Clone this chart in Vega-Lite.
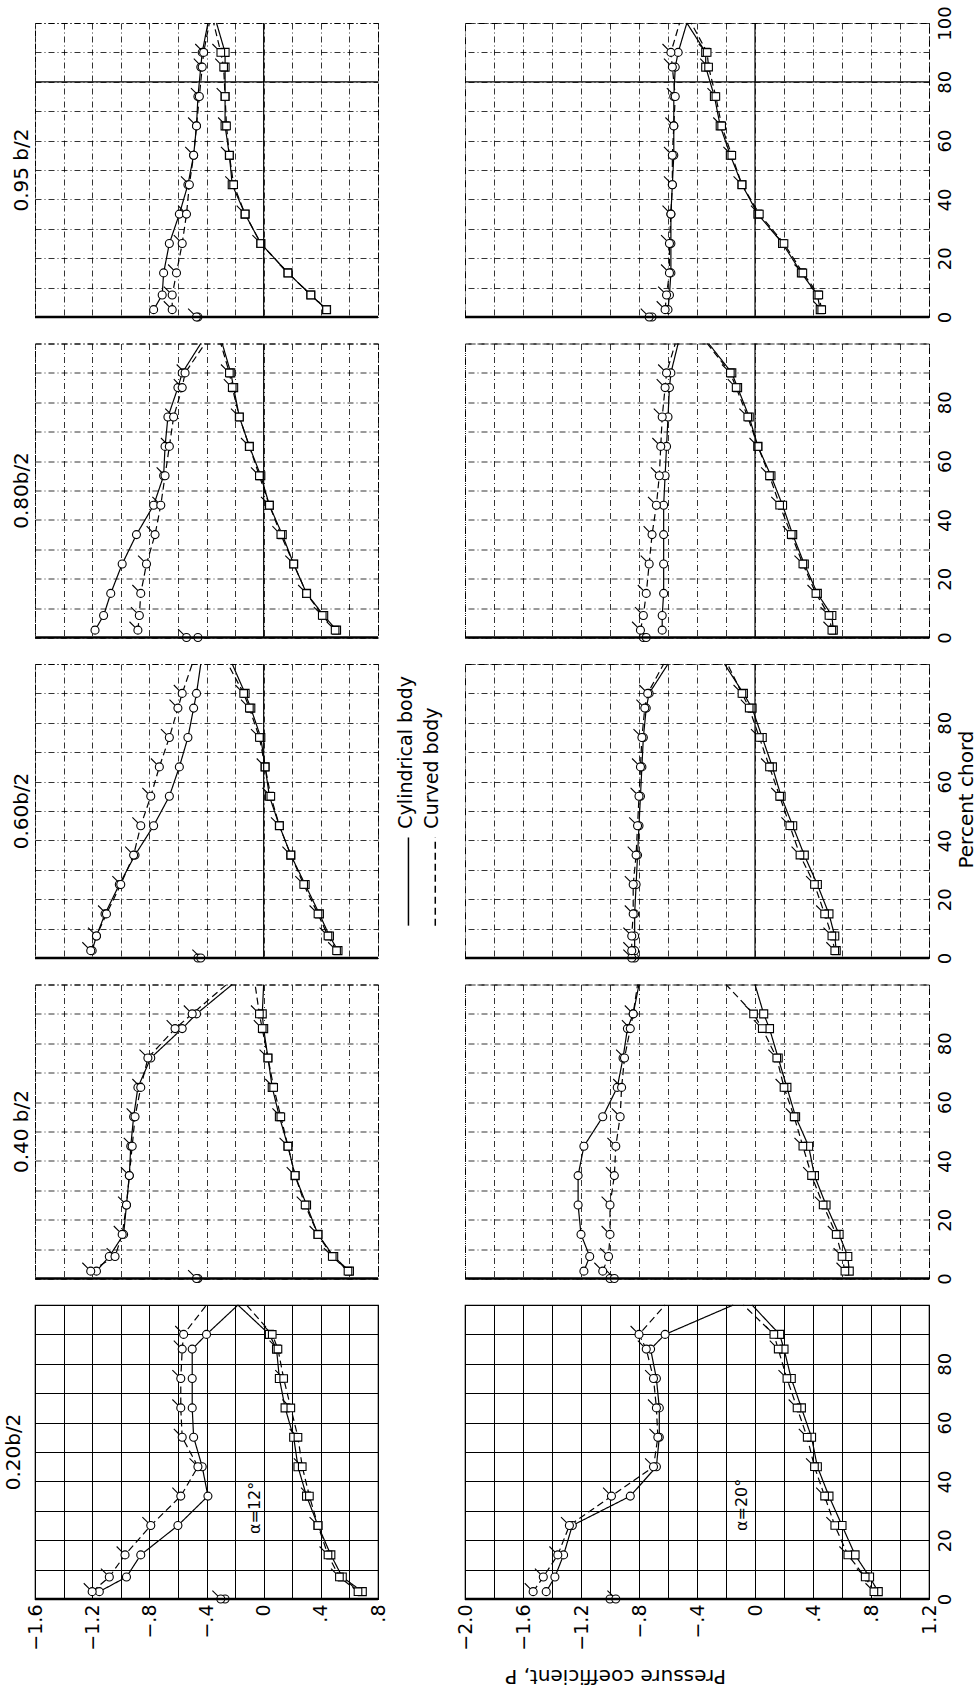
{
"$schema": "https://vega.github.io/schema/vega-lite/v6.json",
"background": "white",
"padding": {"left": 3, "top": 5, "right": 1, "bottom": 2},
"datasets": {
"s095a12": [
{"body":"cyl","side":"up","chord":0,"cp":-0.46},{"body":"crv","side":"up","chord":0,"cp":-0.47},
{"body":"cyl","side":"up","chord":2.5,"cp":-0.77},{"body":"cyl","side":"up","chord":7.5,"cp":-0.71},{"body":"cyl","side":"up","chord":15,"cp":-0.70},{"body":"cyl","side":"up","chord":25,"cp":-0.66},{"body":"cyl","side":"up","chord":35,"cp":-0.59},{"body":"cyl","side":"up","chord":45,"cp":-0.53},{"body":"cyl","side":"up","chord":55,"cp":-0.49},{"body":"cyl","side":"up","chord":65,"cp":-0.47},{"body":"cyl","side":"up","chord":75,"cp":-0.46},{"body":"cyl","side":"up","chord":85,"cp":-0.44},{"body":"cyl","side":"up","chord":90,"cp":-0.43},{"body":"cyl","side":"up","chord":100,"cp":-0.39},
{"body":"crv","side":"up","chord":2.5,"cp":-0.64},{"body":"crv","side":"up","chord":7.5,"cp":-0.64},{"body":"crv","side":"up","chord":15,"cp":-0.61},{"body":"crv","side":"up","chord":25,"cp":-0.57},{"body":"crv","side":"up","chord":35,"cp":-0.54},{"body":"crv","side":"up","chord":45,"cp":-0.52},{"body":"crv","side":"up","chord":55,"cp":-0.49},{"body":"crv","side":"up","chord":65,"cp":-0.47},{"body":"crv","side":"up","chord":75,"cp":-0.45},{"body":"crv","side":"up","chord":85,"cp":-0.43},{"body":"crv","side":"up","chord":90,"cp":-0.42},{"body":"crv","side":"up","chord":100,"cp":-0.38},
{"body":"cyl","side":"lo","chord":2.5,"cp":0.44},{"body":"cyl","side":"lo","chord":7.5,"cp":0.33},{"body":"cyl","side":"lo","chord":15,"cp":0.17},{"body":"cyl","side":"lo","chord":25,"cp":-0.02},{"body":"cyl","side":"lo","chord":35,"cp":-0.13},{"body":"cyl","side":"lo","chord":45,"cp":-0.22},{"body":"cyl","side":"lo","chord":55,"cp":-0.24},{"body":"cyl","side":"lo","chord":65,"cp":-0.27},{"body":"cyl","side":"lo","chord":75,"cp":-0.27},{"body":"cyl","side":"lo","chord":85,"cp":-0.27},{"body":"cyl","side":"lo","chord":90,"cp":-0.27},{"body":"cyl","side":"lo","chord":100,"cp":-0.33},
{"body":"crv","side":"lo","chord":2.5,"cp":0.44},{"body":"crv","side":"lo","chord":7.5,"cp":0.33},{"body":"crv","side":"lo","chord":15,"cp":0.17},{"body":"crv","side":"lo","chord":25,"cp":-0.02},{"body":"crv","side":"lo","chord":35,"cp":-0.13},{"body":"crv","side":"lo","chord":45,"cp":-0.21},{"body":"crv","side":"lo","chord":55,"cp":-0.24},{"body":"crv","side":"lo","chord":65,"cp":-0.26},{"body":"crv","side":"lo","chord":75,"cp":-0.27},{"body":"crv","side":"lo","chord":85,"cp":-0.28},{"body":"crv","side":"lo","chord":90,"cp":-0.30},{"body":"crv","side":"lo","chord":100,"cp":-0.35}
],
"s095a20": [
{"body":"cyl","side":"up","chord":0,"cp":-0.71},{"body":"crv","side":"up","chord":0,"cp":-0.73},
{"body":"cyl","side":"up","chord":2.5,"cp":-0.60},{"body":"cyl","side":"up","chord":7.5,"cp":-0.59},{"body":"cyl","side":"up","chord":15,"cp":-0.58},{"body":"cyl","side":"up","chord":25,"cp":-0.58},{"body":"cyl","side":"up","chord":35,"cp":-0.58},{"body":"cyl","side":"up","chord":45,"cp":-0.57},{"body":"cyl","side":"up","chord":55,"cp":-0.56},{"body":"cyl","side":"up","chord":65,"cp":-0.56},{"body":"cyl","side":"up","chord":75,"cp":-0.56},{"body":"cyl","side":"up","chord":85,"cp":-0.55},{"body":"cyl","side":"up","chord":90,"cp":-0.53},{"body":"cyl","side":"up","chord":100,"cp":-0.47},
{"body":"crv","side":"up","chord":2.5,"cp":-0.62},{"body":"crv","side":"up","chord":7.5,"cp":-0.61},{"body":"crv","side":"up","chord":15,"cp":-0.59},{"body":"crv","side":"up","chord":25,"cp":-0.59},{"body":"crv","side":"up","chord":35,"cp":-0.58},{"body":"crv","side":"up","chord":45,"cp":-0.57},{"body":"crv","side":"up","chord":55,"cp":-0.57},{"body":"crv","side":"up","chord":65,"cp":-0.56},{"body":"crv","side":"up","chord":75,"cp":-0.55},{"body":"crv","side":"up","chord":85,"cp":-0.57},{"body":"crv","side":"up","chord":90,"cp":-0.58},{"body":"crv","side":"up","chord":100,"cp":-0.52},
{"body":"cyl","side":"lo","chord":2.5,"cp":0.45},{"body":"cyl","side":"lo","chord":7.5,"cp":0.43},{"body":"cyl","side":"lo","chord":15,"cp":0.32},{"body":"cyl","side":"lo","chord":25,"cp":0.19},{"body":"cyl","side":"lo","chord":35,"cp":0.02},{"body":"cyl","side":"lo","chord":45,"cp":-0.09},{"body":"cyl","side":"lo","chord":55,"cp":-0.17},{"body":"cyl","side":"lo","chord":65,"cp":-0.24},{"body":"cyl","side":"lo","chord":75,"cp":-0.28},{"body":"cyl","side":"lo","chord":85,"cp":-0.34},{"body":"cyl","side":"lo","chord":90,"cp":-0.34},{"body":"cyl","side":"lo","chord":100,"cp":-0.47},
{"body":"crv","side":"lo","chord":2.5,"cp":0.46},{"body":"crv","side":"lo","chord":7.5,"cp":0.44},{"body":"crv","side":"lo","chord":15,"cp":0.33},{"body":"crv","side":"lo","chord":25,"cp":0.20},{"body":"crv","side":"lo","chord":35,"cp":0.03},{"body":"crv","side":"lo","chord":45,"cp":-0.09},{"body":"crv","side":"lo","chord":55,"cp":-0.16},{"body":"crv","side":"lo","chord":65,"cp":-0.23},{"body":"crv","side":"lo","chord":75,"cp":-0.27},{"body":"crv","side":"lo","chord":85,"cp":-0.32},{"body":"crv","side":"lo","chord":90,"cp":-0.33},{"body":"crv","side":"lo","chord":100,"cp":-0.44}
],
"s080a12": [
{"body":"cyl","side":"up","chord":0,"cp":-0.46},{"body":"crv","side":"up","chord":0,"cp":-0.54},
{"body":"cyl","side":"up","chord":2.5,"cp":-1.18},{"body":"cyl","side":"up","chord":7.5,"cp":-1.12},{"body":"cyl","side":"up","chord":15,"cp":-1.07},{"body":"cyl","side":"up","chord":25,"cp":-0.99},{"body":"cyl","side":"up","chord":35,"cp":-0.89},{"body":"cyl","side":"up","chord":45,"cp":-0.77},{"body":"cyl","side":"up","chord":55,"cp":-0.70},{"body":"cyl","side":"up","chord":65,"cp":-0.69},{"body":"cyl","side":"up","chord":75,"cp":-0.67},{"body":"cyl","side":"up","chord":85,"cp":-0.60},{"body":"cyl","side":"up","chord":90,"cp":-0.57},{"body":"cyl","side":"up","chord":100,"cp":-0.44},
{"body":"crv","side":"up","chord":2.5,"cp":-0.88},{"body":"crv","side":"up","chord":7.5,"cp":-0.87},{"body":"crv","side":"up","chord":15,"cp":-0.86},{"body":"crv","side":"up","chord":25,"cp":-0.82},{"body":"crv","side":"up","chord":35,"cp":-0.76},{"body":"crv","side":"up","chord":45,"cp":-0.72},{"body":"crv","side":"up","chord":55,"cp":-0.69},{"body":"crv","side":"up","chord":65,"cp":-0.66},{"body":"crv","side":"up","chord":75,"cp":-0.63},{"body":"crv","side":"up","chord":85,"cp":-0.57},{"body":"crv","side":"up","chord":90,"cp":-0.55},{"body":"crv","side":"up","chord":100,"cp":-0.41},
{"body":"cyl","side":"lo","chord":2.5,"cp":0.51},{"body":"cyl","side":"lo","chord":7.5,"cp":0.42},{"body":"cyl","side":"lo","chord":15,"cp":0.30},{"body":"cyl","side":"lo","chord":25,"cp":0.21},{"body":"cyl","side":"lo","chord":35,"cp":0.13},{"body":"cyl","side":"lo","chord":45,"cp":0.04},{"body":"cyl","side":"lo","chord":55,"cp":-0.02},{"body":"cyl","side":"lo","chord":65,"cp":-0.10},{"body":"cyl","side":"lo","chord":75,"cp":-0.17},{"body":"cyl","side":"lo","chord":85,"cp":-0.21},{"body":"cyl","side":"lo","chord":90,"cp":-0.23},{"body":"cyl","side":"lo","chord":100,"cp":-0.29},
{"body":"crv","side":"lo","chord":2.5,"cp":0.50},{"body":"crv","side":"lo","chord":7.5,"cp":0.41},{"body":"crv","side":"lo","chord":15,"cp":0.30},{"body":"crv","side":"lo","chord":25,"cp":0.21},{"body":"crv","side":"lo","chord":35,"cp":0.12},{"body":"crv","side":"lo","chord":45,"cp":0.04},{"body":"crv","side":"lo","chord":55,"cp":-0.03},{"body":"crv","side":"lo","chord":65,"cp":-0.10},{"body":"crv","side":"lo","chord":75,"cp":-0.17},{"body":"crv","side":"lo","chord":85,"cp":-0.22},{"body":"crv","side":"lo","chord":90,"cp":-0.24},{"body":"crv","side":"lo","chord":100,"cp":-0.30}
],
"s080a20": [
{"body":"cyl","side":"up","chord":0,"cp":-0.77},{"body":"crv","side":"up","chord":0,"cp":-0.75},
{"body":"cyl","side":"up","chord":2.5,"cp":-0.64},{"body":"cyl","side":"up","chord":7.5,"cp":-0.64},{"body":"cyl","side":"up","chord":15,"cp":-0.63},{"body":"cyl","side":"up","chord":25,"cp":-0.63},{"body":"cyl","side":"up","chord":35,"cp":-0.63},{"body":"cyl","side":"up","chord":45,"cp":-0.63},{"body":"cyl","side":"up","chord":55,"cp":-0.62},{"body":"cyl","side":"up","chord":65,"cp":-0.61},{"body":"cyl","side":"up","chord":75,"cp":-0.60},{"body":"cyl","side":"up","chord":85,"cp":-0.59},{"body":"cyl","side":"up","chord":90,"cp":-0.58},{"body":"cyl","side":"up","chord":100,"cp":-0.53},
{"body":"crv","side":"up","chord":2.5,"cp":-0.79},{"body":"crv","side":"up","chord":7.5,"cp":-0.77},{"body":"crv","side":"up","chord":15,"cp":-0.75},{"body":"crv","side":"up","chord":25,"cp":-0.73},{"body":"crv","side":"up","chord":35,"cp":-0.71},{"body":"crv","side":"up","chord":45,"cp":-0.68},{"body":"crv","side":"up","chord":55,"cp":-0.66},{"body":"crv","side":"up","chord":65,"cp":-0.65},{"body":"crv","side":"up","chord":75,"cp":-0.64},{"body":"crv","side":"up","chord":85,"cp":-0.62},{"body":"crv","side":"up","chord":90,"cp":-0.61},{"body":"crv","side":"up","chord":100,"cp":-0.55},
{"body":"cyl","side":"lo","chord":2.5,"cp":0.54},{"body":"cyl","side":"lo","chord":7.5,"cp":0.53},{"body":"cyl","side":"lo","chord":15,"cp":0.43},{"body":"cyl","side":"lo","chord":25,"cp":0.34},{"body":"cyl","side":"lo","chord":35,"cp":0.26},{"body":"cyl","side":"lo","chord":45,"cp":0.19},{"body":"cyl","side":"lo","chord":55,"cp":0.11},{"body":"cyl","side":"lo","chord":65,"cp":0.02},{"body":"cyl","side":"lo","chord":75,"cp":-0.04},{"body":"cyl","side":"lo","chord":85,"cp":-0.12},{"body":"cyl","side":"lo","chord":90,"cp":-0.16},{"body":"cyl","side":"lo","chord":100,"cp":-0.32},
{"body":"crv","side":"lo","chord":2.5,"cp":0.53},{"body":"crv","side":"lo","chord":7.5,"cp":0.51},{"body":"crv","side":"lo","chord":15,"cp":0.42},{"body":"crv","side":"lo","chord":25,"cp":0.33},{"body":"crv","side":"lo","chord":35,"cp":0.25},{"body":"crv","side":"lo","chord":45,"cp":0.17},{"body":"crv","side":"lo","chord":55,"cp":0.10},{"body":"crv","side":"lo","chord":65,"cp":0.02},{"body":"crv","side":"lo","chord":75,"cp":-0.05},{"body":"crv","side":"lo","chord":85,"cp":-0.13},{"body":"crv","side":"lo","chord":90,"cp":-0.17},{"body":"crv","side":"lo","chord":100,"cp":-0.33}
],
"s060a12": [
{"body":"cyl","side":"up","chord":0,"cp":-0.46},{"body":"crv","side":"up","chord":0,"cp":-0.44},
{"body":"cyl","side":"up","chord":2.5,"cp":-1.20},{"body":"cyl","side":"up","chord":7.5,"cp":-1.17},{"body":"cyl","side":"up","chord":15,"cp":-1.11},{"body":"cyl","side":"up","chord":25,"cp":-1.01},{"body":"cyl","side":"up","chord":35,"cp":-0.90},{"body":"cyl","side":"up","chord":45,"cp":-0.77},{"body":"cyl","side":"up","chord":55,"cp":-0.66},{"body":"cyl","side":"up","chord":65,"cp":-0.59},{"body":"cyl","side":"up","chord":75,"cp":-0.53},{"body":"cyl","side":"up","chord":85,"cp":-0.49},{"body":"cyl","side":"up","chord":90,"cp":-0.47},{"body":"cyl","side":"up","chord":100,"cp":-0.44},
{"body":"crv","side":"up","chord":2.5,"cp":-1.21},{"body":"crv","side":"up","chord":7.5,"cp":-1.17},{"body":"crv","side":"up","chord":15,"cp":-1.10},{"body":"crv","side":"up","chord":25,"cp":-1.00},{"body":"crv","side":"up","chord":35,"cp":-0.91},{"body":"crv","side":"up","chord":45,"cp":-0.86},{"body":"crv","side":"up","chord":55,"cp":-0.79},{"body":"crv","side":"up","chord":65,"cp":-0.73},{"body":"crv","side":"up","chord":75,"cp":-0.66},{"body":"crv","side":"up","chord":85,"cp":-0.60},{"body":"crv","side":"up","chord":90,"cp":-0.57},{"body":"crv","side":"up","chord":100,"cp":-0.50},
{"body":"cyl","side":"lo","chord":2.5,"cp":0.52},{"body":"cyl","side":"lo","chord":7.5,"cp":0.46},{"body":"cyl","side":"lo","chord":15,"cp":0.39},{"body":"cyl","side":"lo","chord":25,"cp":0.29},{"body":"cyl","side":"lo","chord":35,"cp":0.19},{"body":"cyl","side":"lo","chord":45,"cp":0.11},{"body":"cyl","side":"lo","chord":55,"cp":0.04},{"body":"cyl","side":"lo","chord":65,"cp":0.01},{"body":"cyl","side":"lo","chord":75,"cp":-0.02},{"body":"cyl","side":"lo","chord":85,"cp":-0.09},{"body":"cyl","side":"lo","chord":90,"cp":-0.13},{"body":"cyl","side":"lo","chord":100,"cp":-0.22},
{"body":"crv","side":"lo","chord":2.5,"cp":0.51},{"body":"crv","side":"lo","chord":7.5,"cp":0.45},{"body":"crv","side":"lo","chord":15,"cp":0.38},{"body":"crv","side":"lo","chord":25,"cp":0.28},{"body":"crv","side":"lo","chord":35,"cp":0.19},{"body":"crv","side":"lo","chord":45,"cp":0.11},{"body":"crv","side":"lo","chord":55,"cp":0.05},{"body":"crv","side":"lo","chord":65,"cp":0.01},{"body":"crv","side":"lo","chord":75,"cp":-0.03},{"body":"crv","side":"lo","chord":85,"cp":-0.10},{"body":"crv","side":"lo","chord":90,"cp":-0.14},{"body":"crv","side":"lo","chord":100,"cp":-0.25}
],
"s060a20": [
{"body":"cyl","side":"up","chord":0,"cp":-0.83},{"body":"crv","side":"up","chord":0,"cp":-0.85},
{"body":"cyl","side":"up","chord":2.5,"cp":-0.83},{"body":"cyl","side":"up","chord":7.5,"cp":-0.83},{"body":"cyl","side":"up","chord":15,"cp":-0.83},{"body":"cyl","side":"up","chord":25,"cp":-0.82},{"body":"cyl","side":"up","chord":35,"cp":-0.81},{"body":"cyl","side":"up","chord":45,"cp":-0.80},{"body":"cyl","side":"up","chord":55,"cp":-0.79},{"body":"cyl","side":"up","chord":65,"cp":-0.78},{"body":"cyl","side":"up","chord":75,"cp":-0.77},{"body":"cyl","side":"up","chord":85,"cp":-0.75},{"body":"cyl","side":"up","chord":90,"cp":-0.73},{"body":"cyl","side":"up","chord":100,"cp":-0.60},
{"body":"crv","side":"up","chord":2.5,"cp":-0.85},{"body":"crv","side":"up","chord":7.5,"cp":-0.85},{"body":"crv","side":"up","chord":15,"cp":-0.84},{"body":"crv","side":"up","chord":25,"cp":-0.84},{"body":"crv","side":"up","chord":35,"cp":-0.82},{"body":"crv","side":"up","chord":45,"cp":-0.81},{"body":"crv","side":"up","chord":55,"cp":-0.80},{"body":"crv","side":"up","chord":65,"cp":-0.79},{"body":"crv","side":"up","chord":75,"cp":-0.78},{"body":"crv","side":"up","chord":85,"cp":-0.76},{"body":"crv","side":"up","chord":90,"cp":-0.74},{"body":"crv","side":"up","chord":100,"cp":-0.63},
{"body":"cyl","side":"lo","chord":2.5,"cp":0.56},{"body":"cyl","side":"lo","chord":7.5,"cp":0.55},{"body":"cyl","side":"lo","chord":15,"cp":0.51},{"body":"cyl","side":"lo","chord":25,"cp":0.43},{"body":"cyl","side":"lo","chord":35,"cp":0.34},{"body":"cyl","side":"lo","chord":45,"cp":0.26},{"body":"cyl","side":"lo","chord":55,"cp":0.18},{"body":"cyl","side":"lo","chord":65,"cp":0.12},{"body":"cyl","side":"lo","chord":75,"cp":0.05},{"body":"cyl","side":"lo","chord":85,"cp":-0.02},{"body":"cyl","side":"lo","chord":90,"cp":-0.08},{"body":"cyl","side":"lo","chord":100,"cp":-0.21},
{"body":"crv","side":"lo","chord":2.5,"cp":0.55},{"body":"crv","side":"lo","chord":7.5,"cp":0.53},{"body":"crv","side":"lo","chord":15,"cp":0.48},{"body":"crv","side":"lo","chord":25,"cp":0.41},{"body":"crv","side":"lo","chord":35,"cp":0.31},{"body":"crv","side":"lo","chord":45,"cp":0.24},{"body":"crv","side":"lo","chord":55,"cp":0.17},{"body":"crv","side":"lo","chord":65,"cp":0.10},{"body":"crv","side":"lo","chord":75,"cp":0.03},{"body":"crv","side":"lo","chord":85,"cp":-0.04},{"body":"crv","side":"lo","chord":90,"cp":-0.09},{"body":"crv","side":"lo","chord":100,"cp":-0.19}
],
"s040a12": [
{"body":"cyl","side":"up","chord":0,"cp":-0.46},{"body":"crv","side":"up","chord":0,"cp":-0.47},
{"body":"cyl","side":"up","chord":2.5,"cp":-1.17},{"body":"cyl","side":"up","chord":7.5,"cp":-1.08},{"body":"cyl","side":"up","chord":15,"cp":-0.98},{"body":"cyl","side":"up","chord":25,"cp":-0.96},{"body":"cyl","side":"up","chord":35,"cp":-0.94},{"body":"cyl","side":"up","chord":45,"cp":-0.93},{"body":"cyl","side":"up","chord":55,"cp":-0.91},{"body":"cyl","side":"up","chord":65,"cp":-0.88},{"body":"cyl","side":"up","chord":75,"cp":-0.79},{"body":"cyl","side":"up","chord":85,"cp":-0.57},{"body":"cyl","side":"up","chord":90,"cp":-0.47},{"body":"cyl","side":"up","chord":100,"cp":-0.22},
{"body":"crv","side":"up","chord":2.5,"cp":-1.21},{"body":"crv","side":"up","chord":7.5,"cp":-1.04},{"body":"crv","side":"up","chord":15,"cp":-0.99},{"body":"crv","side":"up","chord":25,"cp":-0.96},{"body":"crv","side":"up","chord":35,"cp":-0.94},{"body":"crv","side":"up","chord":45,"cp":-0.92},{"body":"crv","side":"up","chord":55,"cp":-0.90},{"body":"crv","side":"up","chord":65,"cp":-0.86},{"body":"crv","side":"up","chord":75,"cp":-0.81},{"body":"crv","side":"up","chord":85,"cp":-0.62},{"body":"crv","side":"up","chord":90,"cp":-0.50},{"body":"crv","side":"up","chord":100,"cp":-0.26},
{"body":"cyl","side":"lo","chord":2.5,"cp":0.60},{"body":"cyl","side":"lo","chord":7.5,"cp":0.49},{"body":"cyl","side":"lo","chord":15,"cp":0.38},{"body":"cyl","side":"lo","chord":25,"cp":0.30},{"body":"cyl","side":"lo","chord":35,"cp":0.22},{"body":"cyl","side":"lo","chord":45,"cp":0.17},{"body":"cyl","side":"lo","chord":55,"cp":0.11},{"body":"cyl","side":"lo","chord":65,"cp":0.06},{"body":"cyl","side":"lo","chord":75,"cp":0.03},{"body":"cyl","side":"lo","chord":85,"cp":0.00},{"body":"cyl","side":"lo","chord":90,"cp":-0.01},{"body":"cyl","side":"lo","chord":100,"cp":0.00},
{"body":"crv","side":"lo","chord":2.5,"cp":0.59},{"body":"crv","side":"lo","chord":7.5,"cp":0.48},{"body":"crv","side":"lo","chord":15,"cp":0.38},{"body":"crv","side":"lo","chord":25,"cp":0.29},{"body":"crv","side":"lo","chord":35,"cp":0.22},{"body":"crv","side":"lo","chord":45,"cp":0.17},{"body":"crv","side":"lo","chord":55,"cp":0.12},{"body":"crv","side":"lo","chord":65,"cp":0.07},{"body":"crv","side":"lo","chord":75,"cp":0.03},{"body":"crv","side":"lo","chord":85,"cp":-0.01},{"body":"crv","side":"lo","chord":90,"cp":-0.03},{"body":"crv","side":"lo","chord":100,"cp":-0.06}
],
"s040a20": [
{"body":"cyl","side":"up","chord":0,"cp":-1.00},{"body":"crv","side":"up","chord":0,"cp":-0.97},
{"body":"cyl","side":"up","chord":2.5,"cp":-1.18},{"body":"cyl","side":"up","chord":7.5,"cp":-1.14},{"body":"cyl","side":"up","chord":15,"cp":-1.20},{"body":"cyl","side":"up","chord":25,"cp":-1.22},{"body":"cyl","side":"up","chord":35,"cp":-1.22},{"body":"cyl","side":"up","chord":45,"cp":-1.18},{"body":"cyl","side":"up","chord":55,"cp":-1.05},{"body":"cyl","side":"up","chord":65,"cp":-0.95},{"body":"cyl","side":"up","chord":75,"cp":-0.91},{"body":"cyl","side":"up","chord":85,"cp":-0.88},{"body":"cyl","side":"up","chord":90,"cp":-0.84},{"body":"cyl","side":"up","chord":100,"cp":-0.80},
{"body":"crv","side":"up","chord":2.5,"cp":-1.05},{"body":"crv","side":"up","chord":7.5,"cp":-1.01},{"body":"crv","side":"up","chord":15,"cp":-1.00},{"body":"crv","side":"up","chord":25,"cp":-1.00},{"body":"crv","side":"up","chord":35,"cp":-0.97},{"body":"crv","side":"up","chord":45,"cp":-0.96},{"body":"crv","side":"up","chord":55,"cp":-0.93},{"body":"crv","side":"up","chord":65,"cp":-0.92},{"body":"crv","side":"up","chord":75,"cp":-0.90},{"body":"crv","side":"up","chord":85,"cp":-0.86},{"body":"crv","side":"up","chord":90,"cp":-0.84},{"body":"crv","side":"up","chord":100,"cp":-0.81},
{"body":"cyl","side":"lo","chord":2.5,"cp":0.65},{"body":"cyl","side":"lo","chord":7.5,"cp":0.64},{"body":"cyl","side":"lo","chord":15,"cp":0.58},{"body":"cyl","side":"lo","chord":25,"cp":0.49},{"body":"cyl","side":"lo","chord":35,"cp":0.41},{"body":"cyl","side":"lo","chord":45,"cp":0.37},{"body":"cyl","side":"lo","chord":55,"cp":0.28},{"body":"cyl","side":"lo","chord":65,"cp":0.22},{"body":"cyl","side":"lo","chord":75,"cp":0.16},{"body":"cyl","side":"lo","chord":85,"cp":0.10},{"body":"cyl","side":"lo","chord":90,"cp":0.06},{"body":"cyl","side":"lo","chord":100,"cp":0.00},
{"body":"crv","side":"lo","chord":2.5,"cp":0.62},{"body":"crv","side":"lo","chord":7.5,"cp":0.60},{"body":"crv","side":"lo","chord":15,"cp":0.56},{"body":"crv","side":"lo","chord":25,"cp":0.47},{"body":"crv","side":"lo","chord":35,"cp":0.39},{"body":"crv","side":"lo","chord":45,"cp":0.33},{"body":"crv","side":"lo","chord":55,"cp":0.27},{"body":"crv","side":"lo","chord":65,"cp":0.20},{"body":"crv","side":"lo","chord":75,"cp":0.15},{"body":"crv","side":"lo","chord":85,"cp":0.05},{"body":"crv","side":"lo","chord":90,"cp":-0.01},{"body":"crv","side":"lo","chord":100,"cp":-0.20}
],
"s020a12": [
{"body":"cyl","side":"up","chord":0,"cp":-0.27},{"body":"crv","side":"up","chord":0,"cp":-0.30},
{"body":"cyl","side":"up","chord":2.5,"cp":-1.15},{"body":"cyl","side":"up","chord":7.5,"cp":-0.96},{"body":"cyl","side":"up","chord":15,"cp":-0.86},{"body":"cyl","side":"up","chord":25,"cp":-0.60},{"body":"cyl","side":"up","chord":35,"cp":-0.39},{"body":"cyl","side":"up","chord":45,"cp":-0.43},{"body":"cyl","side":"up","chord":55,"cp":-0.49},{"body":"cyl","side":"up","chord":65,"cp":-0.50},{"body":"cyl","side":"up","chord":75,"cp":-0.50},{"body":"cyl","side":"up","chord":85,"cp":-0.50},{"body":"cyl","side":"up","chord":90,"cp":-0.40},{"body":"cyl","side":"up","chord":100,"cp":-0.18},
{"body":"crv","side":"up","chord":2.5,"cp":-1.20},{"body":"crv","side":"up","chord":7.5,"cp":-1.08},{"body":"crv","side":"up","chord":15,"cp":-0.97},{"body":"crv","side":"up","chord":25,"cp":-0.79},{"body":"crv","side":"up","chord":35,"cp":-0.58},{"body":"crv","side":"up","chord":45,"cp":-0.46},{"body":"crv","side":"up","chord":55,"cp":-0.57},{"body":"crv","side":"up","chord":65,"cp":-0.58},{"body":"crv","side":"up","chord":75,"cp":-0.58},{"body":"crv","side":"up","chord":85,"cp":-0.57},{"body":"crv","side":"up","chord":90,"cp":-0.56},{"body":"crv","side":"up","chord":100,"cp":-0.40},
{"body":"cyl","side":"lo","chord":2.5,"cp":0.69},{"body":"cyl","side":"lo","chord":7.5,"cp":0.55},{"body":"cyl","side":"lo","chord":15,"cp":0.47},{"body":"cyl","side":"lo","chord":25,"cp":0.38},{"body":"cyl","side":"lo","chord":35,"cp":0.30},{"body":"cyl","side":"lo","chord":45,"cp":0.24},{"body":"cyl","side":"lo","chord":55,"cp":0.21},{"body":"cyl","side":"lo","chord":65,"cp":0.15},{"body":"cyl","side":"lo","chord":75,"cp":0.11},{"body":"cyl","side":"lo","chord":85,"cp":0.09},{"body":"cyl","side":"lo","chord":90,"cp":0.04},{"body":"cyl","side":"lo","chord":100,"cp":-0.18},
{"body":"crv","side":"lo","chord":2.5,"cp":0.66},{"body":"crv","side":"lo","chord":7.5,"cp":0.53},{"body":"crv","side":"lo","chord":15,"cp":0.45},{"body":"crv","side":"lo","chord":25,"cp":0.38},{"body":"crv","side":"lo","chord":35,"cp":0.32},{"body":"crv","side":"lo","chord":45,"cp":0.27},{"body":"crv","side":"lo","chord":55,"cp":0.24},{"body":"crv","side":"lo","chord":65,"cp":0.19},{"body":"crv","side":"lo","chord":75,"cp":0.14},{"body":"crv","side":"lo","chord":85,"cp":0.10},{"body":"crv","side":"lo","chord":90,"cp":0.06},{"body":"crv","side":"lo","chord":100,"cp":-0.12}
],
"s020a20": [
{"body":"cyl","side":"up","chord":0,"cp":-1.00},{"body":"crv","side":"up","chord":0,"cp":-0.96},
{"body":"cyl","side":"up","chord":2.5,"cp":-1.44},{"body":"cyl","side":"up","chord":7.5,"cp":-1.38},{"body":"cyl","side":"up","chord":15,"cp":-1.32},{"body":"cyl","side":"up","chord":25,"cp":-1.26},{"body":"cyl","side":"up","chord":35,"cp":-0.86},{"body":"cyl","side":"up","chord":45,"cp":-0.68},{"body":"cyl","side":"up","chord":55,"cp":-0.66},{"body":"cyl","side":"up","chord":65,"cp":-0.66},{"body":"cyl","side":"up","chord":75,"cp":-0.68},{"body":"cyl","side":"up","chord":85,"cp":-0.72},{"body":"cyl","side":"up","chord":90,"cp":-0.62},{"body":"cyl","side":"up","chord":100,"cp":-0.15},
{"body":"crv","side":"up","chord":2.5,"cp":-1.53},{"body":"crv","side":"up","chord":7.5,"cp":-1.46},{"body":"crv","side":"up","chord":15,"cp":-1.36},{"body":"crv","side":"up","chord":25,"cp":-1.28},{"body":"crv","side":"up","chord":35,"cp":-0.99},{"body":"crv","side":"up","chord":45,"cp":-0.70},{"body":"crv","side":"up","chord":55,"cp":-0.67},{"body":"crv","side":"up","chord":65,"cp":-0.68},{"body":"crv","side":"up","chord":75,"cp":-0.70},{"body":"crv","side":"up","chord":85,"cp":-0.75},{"body":"crv","side":"up","chord":90,"cp":-0.80},{"body":"crv","side":"up","chord":100,"cp":-0.62},
{"body":"cyl","side":"lo","chord":2.5,"cp":0.85},{"body":"cyl","side":"lo","chord":7.5,"cp":0.79},{"body":"cyl","side":"lo","chord":15,"cp":0.69},{"body":"cyl","side":"lo","chord":25,"cp":0.60},{"body":"cyl","side":"lo","chord":35,"cp":0.51},{"body":"cyl","side":"lo","chord":45,"cp":0.43},{"body":"cyl","side":"lo","chord":55,"cp":0.39},{"body":"cyl","side":"lo","chord":65,"cp":0.32},{"body":"cyl","side":"lo","chord":75,"cp":0.25},{"body":"cyl","side":"lo","chord":85,"cp":0.20},{"body":"cyl","side":"lo","chord":90,"cp":0.17},{"body":"cyl","side":"lo","chord":100,"cp":-0.02},
{"body":"crv","side":"lo","chord":2.5,"cp":0.82},{"body":"crv","side":"lo","chord":7.5,"cp":0.76},{"body":"crv","side":"lo","chord":15,"cp":0.64},{"body":"crv","side":"lo","chord":25,"cp":0.55},{"body":"crv","side":"lo","chord":35,"cp":0.48},{"body":"crv","side":"lo","chord":45,"cp":0.41},{"body":"crv","side":"lo","chord":55,"cp":0.36},{"body":"crv","side":"lo","chord":65,"cp":0.29},{"body":"crv","side":"lo","chord":75,"cp":0.22},{"body":"crv","side":"lo","chord":85,"cp":0.16},{"body":"crv","side":"lo","chord":90,"cp":0.13},{"body":"crv","side":"lo","chord":100,"cp":-0.08}
]
},
"columns": 2,
"spacing": {"row": 26.5, "column": 87},
"align": "each",
"bounds": "flush",
"resolve": {"scale": {"x": "independent", "y": "independent"}},
"concat": [
{
 "width": 343, "height": 294, "data": {"name": "s095a12"},
 "title": {"text": "0.95 b/2", "orient": "left", "anchor": "middle", "fontSize": 20, "fontWeight": "normal", "offset": 2},
 "view": {"stroke": "black", "strokeWidth": 1, "strokeDash": [6,3,1,3]},
 "resolve": {"scale": {"shape": "independent"}},
 "layer": [
  {"transform": [{"filter": "datum.chord > 0"}], "mark": {"type": "line", "color": "black", "strokeWidth": 1.2},
   "encoding": {
    "x": {"field": "cp", "type": "quantitative", "title": null, "scale": {"domain": [-1.6, 0.8], "nice": false, "zero": false}, "axis": {"values": [-1.6,-1.4,-1.2,-1,-0.8,-0.6,-0.4,-0.2,0,0.2,0.4,0.6,0.8], "tickCount": 30, "grid": true, "gridColor": "black", "gridWidth": 0.8, "gridDash": [6,3,1,3], "labels": false, "ticks": false, "domain": false, "title": null}},
    "y": {"field": "chord", "type": "quantitative", "title": null, "scale": {"domain": [0, 100], "nice": false, "zero": false}, "axis": {"orient": "left", "values": [0,10,20,30,40,50,60,70,80,90,100], "tickCount": 30, "grid": true, "gridColor": "black", "gridWidth": 0.8, "gridDash": [6,3,1,3], "labels": false, "ticks": false, "domain": false, "title": null}},
    "detail": {"field": "side"},
    "strokeDash": {"field": "body", "type": "nominal", "scale": {"domain": ["cyl","crv"], "range": [[1,0],[7,4]]}, "legend": null},
    "order": {"field": "chord", "type": "quantitative"}}},
  {"transform": [{"filter": "datum.body == 'cyl' && datum.chord < 100"}], "mark": {"type": "point", "filled": true, "fill": "white", "stroke": "black", "strokeWidth": 1.1, "size": 64, "opacity": 1},
   "encoding": {"x": {"field": "cp", "type": "quantitative", "title": null}, "y": {"field": "chord", "type": "quantitative", "title": null},
    "shape": {"field": "side", "type": "nominal", "scale": {"domain": ["up","lo"], "range": ["circle","square"]}, "legend": null}}},
  {"transform": [{"filter": "datum.body == 'crv' && datum.chord < 100"}], "mark": {"type": "point", "filled": true, "fill": "white", "stroke": "black", "strokeWidth": 1.1, "size": 64, "opacity": 1},
   "encoding": {"x": {"field": "cp", "type": "quantitative", "title": null}, "y": {"field": "chord", "type": "quantitative", "title": null},
    "shape": {"field": "side", "type": "nominal", "scale": {"domain": ["up","lo"], "range": ["M1,0A1,1,0,1,1,-1,0A1,1,0,1,1,1,0M-0.7,-0.7L-2.1,-2.1", "M-0.95,-0.95L0.95,-0.95L0.95,0.95L-0.95,0.95ZM-0.95,-0.95L-2.1,-2.1"]}, "legend": null}}},
  {"data": {"values": [{}]}, "mark": {"type": "rule", "color": "black", "strokeWidth": 2.5}, "encoding": {"y": {"datum": 0, "type": "quantitative", "title": null}}},
  {"data": {"values": [{}]}, "mark": {"type": "rule", "color": "black", "strokeWidth": 1.2}, "encoding": {"y": {"datum": 80, "type": "quantitative", "title": null}}},
  {"data": {"values": [{}]}, "mark": {"type": "rule", "color": "black", "strokeWidth": 1.2}, "encoding": {"x": {"datum": 0, "type": "quantitative", "title": null}}}
 ]
},
{
 "width": 464, "height": 294, "data": {"name": "s095a20"},
 "view": {"stroke": "black", "strokeWidth": 1, "strokeDash": [6,3,1,3]},
 "resolve": {"scale": {"shape": "independent"}},
 "layer": [
  {"transform": [{"filter": "datum.chord > 0"}], "mark": {"type": "line", "color": "black", "strokeWidth": 1.2},
   "encoding": {
    "x": {"field": "cp", "type": "quantitative", "title": null, "scale": {"domain": [-2, 1.2], "nice": false, "zero": false}, "axis": {"values": [-2,-1.8,-1.6,-1.4,-1.2,-1,-0.8,-0.6,-0.4,-0.2,0,0.2,0.4,0.6,0.8,1,1.2], "tickCount": 30, "grid": true, "gridColor": "black", "gridWidth": 0.8, "gridDash": [6,3,1,3], "labels": false, "ticks": false, "domain": false, "title": null}},
    "y": {"field": "chord", "type": "quantitative", "title": null, "scale": {"domain": [0, 100], "nice": false, "zero": false}, "axis": {"orient": "right", "values": [0,10,20,30,40,50,60,70,80,90,100], "tickCount": 30, "grid": true, "gridColor": "black", "gridWidth": 0.8, "gridDash": [6,3,1,3], "labels": true, "labelExpr": "datum.value % 20 == 0 ? datum.label : ''", "labelAngle": 270, "labelAlign": "center", "labelBaseline": "top", "labelPadding": 7, "labelFontSize": 18, "labelFont": "DejaVu Sans", "labelColor": "black", "labelFlush": false, "labelOverlap": false, "labelBound": false, "ticks": false, "domain": false, "title": null}},
    "detail": {"field": "side"},
    "strokeDash": {"field": "body", "type": "nominal", "scale": {"domain": ["cyl","crv"], "range": [[1,0],[7,4]]}, "legend": null},
    "order": {"field": "chord", "type": "quantitative"}}},
  {"transform": [{"filter": "datum.body == 'cyl' && datum.chord < 100"}], "mark": {"type": "point", "filled": true, "fill": "white", "stroke": "black", "strokeWidth": 1.1, "size": 64, "opacity": 1},
   "encoding": {"x": {"field": "cp", "type": "quantitative", "title": null}, "y": {"field": "chord", "type": "quantitative", "title": null},
    "shape": {"field": "side", "type": "nominal", "scale": {"domain": ["up","lo"], "range": ["circle","square"]}, "legend": null}}},
  {"transform": [{"filter": "datum.body == 'crv' && datum.chord < 100"}], "mark": {"type": "point", "filled": true, "fill": "white", "stroke": "black", "strokeWidth": 1.1, "size": 64, "opacity": 1},
   "encoding": {"x": {"field": "cp", "type": "quantitative", "title": null}, "y": {"field": "chord", "type": "quantitative", "title": null},
    "shape": {"field": "side", "type": "nominal", "scale": {"domain": ["up","lo"], "range": ["M1,0A1,1,0,1,1,-1,0A1,1,0,1,1,1,0M-0.7,-0.7L-2.1,-2.1", "M-0.95,-0.95L0.95,-0.95L0.95,0.95L-0.95,0.95ZM-0.95,-0.95L-2.1,-2.1"]}, "legend": null}}},
  {"data": {"values": [{}]}, "mark": {"type": "rule", "color": "black", "strokeWidth": 2.5}, "encoding": {"y": {"datum": 0, "type": "quantitative", "title": null}}},
  {"data": {"values": [{}]}, "mark": {"type": "rule", "color": "black", "strokeWidth": 1.2}, "encoding": {"y": {"datum": 80, "type": "quantitative", "title": null}}},
  {"data": {"values": [{}]}, "mark": {"type": "rule", "color": "black", "strokeWidth": 1.2}, "encoding": {"x": {"datum": 0, "type": "quantitative", "title": null}}}
 ]
},
{
 "width": 343, "height": 294, "data": {"name": "s080a12"},
 "title": {"text": "0.80b/2", "orient": "left", "anchor": "middle", "fontSize": 20, "fontWeight": "normal", "offset": 2},
 "view": {"stroke": "black", "strokeWidth": 1, "strokeDash": [6,3,1,3]},
 "resolve": {"scale": {"shape": "independent"}},
 "layer": [
  {"transform": [{"filter": "datum.chord > 0"}], "mark": {"type": "line", "color": "black", "strokeWidth": 1.2},
   "encoding": {
    "x": {"field": "cp", "type": "quantitative", "title": null, "scale": {"domain": [-1.6, 0.8], "nice": false, "zero": false}, "axis": {"values": [-1.6,-1.4,-1.2,-1,-0.8,-0.6,-0.4,-0.2,0,0.2,0.4,0.6,0.8], "tickCount": 30, "grid": true, "gridColor": "black", "gridWidth": 0.8, "gridDash": [6,3,1,3], "labels": false, "ticks": false, "domain": false, "title": null}},
    "y": {"field": "chord", "type": "quantitative", "title": null, "scale": {"domain": [0, 100], "nice": false, "zero": false}, "axis": {"orient": "left", "values": [0,10,20,30,40,50,60,70,80,90,100], "tickCount": 30, "grid": true, "gridColor": "black", "gridWidth": 0.8, "gridDash": [6,3,1,3], "labels": false, "ticks": false, "domain": false, "title": null}},
    "detail": {"field": "side"},
    "strokeDash": {"field": "body", "type": "nominal", "scale": {"domain": ["cyl","crv"], "range": [[1,0],[7,4]]}, "legend": null},
    "order": {"field": "chord", "type": "quantitative"}}},
  {"transform": [{"filter": "datum.body == 'cyl' && datum.chord < 100"}], "mark": {"type": "point", "filled": true, "fill": "white", "stroke": "black", "strokeWidth": 1.1, "size": 64, "opacity": 1},
   "encoding": {"x": {"field": "cp", "type": "quantitative", "title": null}, "y": {"field": "chord", "type": "quantitative", "title": null},
    "shape": {"field": "side", "type": "nominal", "scale": {"domain": ["up","lo"], "range": ["circle","square"]}, "legend": null}}},
  {"transform": [{"filter": "datum.body == 'crv' && datum.chord < 100"}], "mark": {"type": "point", "filled": true, "fill": "white", "stroke": "black", "strokeWidth": 1.1, "size": 64, "opacity": 1},
   "encoding": {"x": {"field": "cp", "type": "quantitative", "title": null}, "y": {"field": "chord", "type": "quantitative", "title": null},
    "shape": {"field": "side", "type": "nominal", "scale": {"domain": ["up","lo"], "range": ["M1,0A1,1,0,1,1,-1,0A1,1,0,1,1,1,0M-0.7,-0.7L-2.1,-2.1", "M-0.95,-0.95L0.95,-0.95L0.95,0.95L-0.95,0.95ZM-0.95,-0.95L-2.1,-2.1"]}, "legend": null}}},
  {"data": {"values": [{}]}, "mark": {"type": "rule", "color": "black", "strokeWidth": 2.5}, "encoding": {"y": {"datum": 0, "type": "quantitative", "title": null}}},
  {"data": {"values": [{}]}, "mark": {"type": "rule", "color": "black", "strokeWidth": 1.2}, "encoding": {"x": {"datum": 0, "type": "quantitative", "title": null}}}
 ]
},
{
 "width": 464, "height": 294, "data": {"name": "s080a20"},
 "view": {"stroke": "black", "strokeWidth": 1, "strokeDash": [6,3,1,3]},
 "resolve": {"scale": {"shape": "independent"}},
 "layer": [
  {"transform": [{"filter": "datum.chord > 0"}], "mark": {"type": "line", "color": "black", "strokeWidth": 1.2},
   "encoding": {
    "x": {"field": "cp", "type": "quantitative", "title": null, "scale": {"domain": [-2, 1.2], "nice": false, "zero": false}, "axis": {"values": [-2,-1.8,-1.6,-1.4,-1.2,-1,-0.8,-0.6,-0.4,-0.2,0,0.2,0.4,0.6,0.8,1,1.2], "tickCount": 30, "grid": true, "gridColor": "black", "gridWidth": 0.8, "gridDash": [6,3,1,3], "labels": false, "ticks": false, "domain": false, "title": null}},
    "y": {"field": "chord", "type": "quantitative", "title": null, "scale": {"domain": [0, 100], "nice": false, "zero": false}, "axis": {"orient": "right", "values": [0,10,20,30,40,50,60,70,80,90,100], "tickCount": 30, "grid": true, "gridColor": "black", "gridWidth": 0.8, "gridDash": [6,3,1,3], "labels": true, "labelExpr": "datum.value % 20 == 0 && datum.value < 100 ? datum.label : ''", "labelAngle": 270, "labelAlign": "center", "labelBaseline": "top", "labelPadding": 7, "labelFontSize": 18, "labelFont": "DejaVu Sans", "labelColor": "black", "labelFlush": false, "labelOverlap": false, "labelBound": false, "ticks": false, "domain": false, "title": null}},
    "detail": {"field": "side"},
    "strokeDash": {"field": "body", "type": "nominal", "scale": {"domain": ["cyl","crv"], "range": [[1,0],[7,4]]}, "legend": null},
    "order": {"field": "chord", "type": "quantitative"}}},
  {"transform": [{"filter": "datum.body == 'cyl' && datum.chord < 100"}], "mark": {"type": "point", "filled": true, "fill": "white", "stroke": "black", "strokeWidth": 1.1, "size": 64, "opacity": 1},
   "encoding": {"x": {"field": "cp", "type": "quantitative", "title": null}, "y": {"field": "chord", "type": "quantitative", "title": null},
    "shape": {"field": "side", "type": "nominal", "scale": {"domain": ["up","lo"], "range": ["circle","square"]}, "legend": null}}},
  {"transform": [{"filter": "datum.body == 'crv' && datum.chord < 100"}], "mark": {"type": "point", "filled": true, "fill": "white", "stroke": "black", "strokeWidth": 1.1, "size": 64, "opacity": 1},
   "encoding": {"x": {"field": "cp", "type": "quantitative", "title": null}, "y": {"field": "chord", "type": "quantitative", "title": null},
    "shape": {"field": "side", "type": "nominal", "scale": {"domain": ["up","lo"], "range": ["M1,0A1,1,0,1,1,-1,0A1,1,0,1,1,1,0M-0.7,-0.7L-2.1,-2.1", "M-0.95,-0.95L0.95,-0.95L0.95,0.95L-0.95,0.95ZM-0.95,-0.95L-2.1,-2.1"]}, "legend": null}}},
  {"data": {"values": [{}]}, "mark": {"type": "rule", "color": "black", "strokeWidth": 2.5}, "encoding": {"y": {"datum": 0, "type": "quantitative", "title": null}}},
  {"data": {"values": [{}]}, "mark": {"type": "rule", "color": "black", "strokeWidth": 1.2}, "encoding": {"x": {"datum": 0, "type": "quantitative", "title": null}}}
 ]
},
{
 "width": 343, "height": 294, "data": {"name": "s060a12"},
 "title": {"text": "0.60b/2", "orient": "left", "anchor": "middle", "fontSize": 20, "fontWeight": "normal", "offset": 2},
 "view": {"stroke": "black", "strokeWidth": 1, "strokeDash": [6,3,1,3]},
 "resolve": {"scale": {"shape": "independent"}},
 "layer": [
  {"transform": [{"filter": "datum.chord > 0"}], "mark": {"type": "line", "color": "black", "strokeWidth": 1.2},
   "encoding": {
    "x": {"field": "cp", "type": "quantitative", "title": null, "scale": {"domain": [-1.6, 0.8], "nice": false, "zero": false}, "axis": {"values": [-1.6,-1.4,-1.2,-1,-0.8,-0.6,-0.4,-0.2,0,0.2,0.4,0.6,0.8], "tickCount": 30, "grid": true, "gridColor": "black", "gridWidth": 0.8, "gridDash": [6,3,1,3], "labels": false, "ticks": false, "domain": false, "title": null}},
    "y": {"field": "chord", "type": "quantitative", "title": null, "scale": {"domain": [0, 100], "nice": false, "zero": false}, "axis": {"orient": "left", "values": [0,10,20,30,40,50,60,70,80,90,100], "tickCount": 30, "grid": true, "gridColor": "black", "gridWidth": 0.8, "gridDash": [6,3,1,3], "labels": false, "ticks": false, "domain": false, "title": null}},
    "detail": {"field": "side"},
    "strokeDash": {"field": "body", "type": "nominal", "scale": {"domain": ["cyl","crv"], "range": [[1,0],[7,4]]}, "legend": null},
    "order": {"field": "chord", "type": "quantitative"}}},
  {"transform": [{"filter": "datum.body == 'cyl' && datum.chord < 100"}], "mark": {"type": "point", "filled": true, "fill": "white", "stroke": "black", "strokeWidth": 1.1, "size": 64, "opacity": 1},
   "encoding": {"x": {"field": "cp", "type": "quantitative", "title": null}, "y": {"field": "chord", "type": "quantitative", "title": null},
    "shape": {"field": "side", "type": "nominal", "scale": {"domain": ["up","lo"], "range": ["circle","square"]}, "legend": null}}},
  {"transform": [{"filter": "datum.body == 'crv' && datum.chord < 100"}], "mark": {"type": "point", "filled": true, "fill": "white", "stroke": "black", "strokeWidth": 1.1, "size": 64, "opacity": 1},
   "encoding": {"x": {"field": "cp", "type": "quantitative", "title": null}, "y": {"field": "chord", "type": "quantitative", "title": null},
    "shape": {"field": "side", "type": "nominal", "scale": {"domain": ["up","lo"], "range": ["M1,0A1,1,0,1,1,-1,0A1,1,0,1,1,1,0M-0.7,-0.7L-2.1,-2.1", "M-0.95,-0.95L0.95,-0.95L0.95,0.95L-0.95,0.95ZM-0.95,-0.95L-2.1,-2.1"]}, "legend": null}}},
  {"data": {"values": [{}]}, "mark": {"type": "rule", "color": "black", "strokeWidth": 2.5}, "encoding": {"y": {"datum": 0, "type": "quantitative", "title": null}}},
  {"data": {"values": [{}]}, "mark": {"type": "rule", "color": "black", "strokeWidth": 1.2}, "encoding": {"x": {"datum": 0, "type": "quantitative", "title": null}}}
 ]
},
{
 "width": 464, "height": 294, "data": {"name": "s060a20"},
 "view": {"stroke": "black", "strokeWidth": 1, "strokeDash": [6,3,1,3]},
 "resolve": {"scale": {"shape": "independent"}},
 "layer": [
  {"transform": [{"filter": "datum.chord > 0"}], "mark": {"type": "line", "color": "black", "strokeWidth": 1.2},
   "encoding": {
    "x": {"field": "cp", "type": "quantitative", "title": null, "scale": {"domain": [-2, 1.2], "nice": false, "zero": false}, "axis": {"values": [-2,-1.8,-1.6,-1.4,-1.2,-1,-0.8,-0.6,-0.4,-0.2,0,0.2,0.4,0.6,0.8,1,1.2], "tickCount": 30, "grid": true, "gridColor": "black", "gridWidth": 0.8, "gridDash": [6,3,1,3], "labels": false, "ticks": false, "domain": false, "title": null}},
    "y": {"field": "chord", "type": "quantitative", "title": "Percent chord", "scale": {"domain": [0, 100], "nice": false, "zero": false}, "axis": {"orient": "right", "values": [0,10,20,30,40,50,60,70,80,90,100], "tickCount": 30, "grid": true, "gridColor": "black", "gridWidth": 0.8, "gridDash": [6,3,1,3], "labels": true, "labelExpr": "datum.value % 20 == 0 && datum.value < 100 ? datum.label : ''", "labelAngle": 270, "labelAlign": "center", "labelBaseline": "top", "labelPadding": 7, "labelFontSize": 18, "labelFont": "DejaVu Sans", "labelColor": "black", "labelFlush": false, "labelOverlap": false, "labelBound": false, "ticks": false, "domain": false,
      "title": "Percent chord", "titleAngle": 270, "titleFontSize": 20, "titleFont": "DejaVu Sans", "titleFontWeight": "normal", "titleColor": "black", "titleBaseline": "top", "titleAlign": "center", "titlePadding": 2, "titleY": 135}},
    "detail": {"field": "side"},
    "strokeDash": {"field": "body", "type": "nominal", "scale": {"domain": ["cyl","crv"], "range": [[1,0],[7,4]]}, "legend": null},
    "order": {"field": "chord", "type": "quantitative"}}},
  {"transform": [{"filter": "datum.body == 'cyl' && datum.chord < 100"}], "mark": {"type": "point", "filled": true, "fill": "white", "stroke": "black", "strokeWidth": 1.1, "size": 64, "opacity": 1},
   "encoding": {"x": {"field": "cp", "type": "quantitative", "title": null}, "y": {"field": "chord", "type": "quantitative", "title": "Percent chord"},
    "shape": {"field": "side", "type": "nominal", "scale": {"domain": ["up","lo"], "range": ["circle","square"]}, "legend": null}}},
  {"transform": [{"filter": "datum.body == 'crv' && datum.chord < 100"}], "mark": {"type": "point", "filled": true, "fill": "white", "stroke": "black", "strokeWidth": 1.1, "size": 64, "opacity": 1},
   "encoding": {"x": {"field": "cp", "type": "quantitative", "title": null}, "y": {"field": "chord", "type": "quantitative", "title": "Percent chord"},
    "shape": {"field": "side", "type": "nominal", "scale": {"domain": ["up","lo"], "range": ["M1,0A1,1,0,1,1,-1,0A1,1,0,1,1,1,0M-0.7,-0.7L-2.1,-2.1", "M-0.95,-0.95L0.95,-0.95L0.95,0.95L-0.95,0.95ZM-0.95,-0.95L-2.1,-2.1"]}, "legend": null}}},
  {"data": {"values": [{}]}, "mark": {"type": "rule", "color": "black", "strokeWidth": 2.5}, "encoding": {"y": {"datum": 0, "type": "quantitative", "title": "Percent chord"}}},
  {"data": {"values": [{}]}, "mark": {"type": "rule", "color": "black", "strokeWidth": 1.2}, "encoding": {"x": {"datum": 0, "type": "quantitative", "title": null}}},
  {"data": {"values": [{}]}, "mark": {"type": "text", "text": "Cylindrical body", "angle": 270, "align": "left", "baseline": "middle", "fontSize": 19, "font": "DejaVu Sans", "color": "black"}, "encoding": {"x": {"datum": -2.41, "type": "quantitative", "title": null}, "y": {"datum": 44, "type": "quantitative", "title": "Percent chord"}}},
  {"data": {"values": [{}]}, "mark": {"type": "text", "text": "Curved body", "angle": 270, "align": "left", "baseline": "middle", "fontSize": 19, "font": "DejaVu Sans", "color": "black"}, "encoding": {"x": {"datum": -2.225, "type": "quantitative", "title": null}, "y": {"datum": 44, "type": "quantitative", "title": "Percent chord"}}},
  {"data": {"values": [{}]}, "mark": {"type": "rule", "color": "black", "strokeWidth": 1.5}, "encoding": {"x": {"datum": -2.39, "type": "quantitative", "title": null}, "y": {"datum": 11, "type": "quantitative", "title": "Percent chord"}, "y2": {"datum": 41}}},
  {"data": {"values": [{}]}, "mark": {"type": "rule", "color": "black", "strokeWidth": 1.5, "strokeDash": [7,4]}, "encoding": {"x": {"datum": -2.205, "type": "quantitative", "title": null}, "y": {"datum": 11, "type": "quantitative", "title": "Percent chord"}, "y2": {"datum": 41}}}
 ]
},
{
 "width": 343, "height": 294, "data": {"name": "s040a12"},
 "title": {"text": "0.40 b/2", "orient": "left", "anchor": "middle", "fontSize": 20, "fontWeight": "normal", "offset": 2},
 "view": {"stroke": "black", "strokeWidth": 1, "strokeDash": [6,3,1,3]},
 "resolve": {"scale": {"shape": "independent"}},
 "layer": [
  {"transform": [{"filter": "datum.chord > 0"}], "mark": {"type": "line", "color": "black", "strokeWidth": 1.2},
   "encoding": {
    "x": {"field": "cp", "type": "quantitative", "title": null, "scale": {"domain": [-1.6, 0.8], "nice": false, "zero": false}, "axis": {"values": [-1.6,-1.4,-1.2,-1,-0.8,-0.6,-0.4,-0.2,0,0.2,0.4,0.6,0.8], "tickCount": 30, "grid": true, "gridColor": "black", "gridWidth": 0.8, "gridDash": [6,3,1,3], "labels": false, "ticks": false, "domain": false, "title": null}},
    "y": {"field": "chord", "type": "quantitative", "title": null, "scale": {"domain": [0, 100], "nice": false, "zero": false}, "axis": {"orient": "left", "values": [0,10,20,30,40,50,60,70,80,90,100], "tickCount": 30, "grid": true, "gridColor": "black", "gridWidth": 0.8, "gridDash": [6,3,1,3], "labels": false, "ticks": false, "domain": false, "title": null}},
    "detail": {"field": "side"},
    "strokeDash": {"field": "body", "type": "nominal", "scale": {"domain": ["cyl","crv"], "range": [[1,0],[7,4]]}, "legend": null},
    "order": {"field": "chord", "type": "quantitative"}}},
  {"transform": [{"filter": "datum.body == 'cyl' && datum.chord < 100"}], "mark": {"type": "point", "filled": true, "fill": "white", "stroke": "black", "strokeWidth": 1.1, "size": 64, "opacity": 1},
   "encoding": {"x": {"field": "cp", "type": "quantitative", "title": null}, "y": {"field": "chord", "type": "quantitative", "title": null},
    "shape": {"field": "side", "type": "nominal", "scale": {"domain": ["up","lo"], "range": ["circle","square"]}, "legend": null}}},
  {"transform": [{"filter": "datum.body == 'crv' && datum.chord < 100"}], "mark": {"type": "point", "filled": true, "fill": "white", "stroke": "black", "strokeWidth": 1.1, "size": 64, "opacity": 1},
   "encoding": {"x": {"field": "cp", "type": "quantitative", "title": null}, "y": {"field": "chord", "type": "quantitative", "title": null},
    "shape": {"field": "side", "type": "nominal", "scale": {"domain": ["up","lo"], "range": ["M1,0A1,1,0,1,1,-1,0A1,1,0,1,1,1,0M-0.7,-0.7L-2.1,-2.1", "M-0.95,-0.95L0.95,-0.95L0.95,0.95L-0.95,0.95ZM-0.95,-0.95L-2.1,-2.1"]}, "legend": null}}},
  {"data": {"values": [{}]}, "mark": {"type": "rule", "color": "black", "strokeWidth": 2.5}, "encoding": {"y": {"datum": 0, "type": "quantitative", "title": null}}}
 ]
},
{
 "width": 464, "height": 294, "data": {"name": "s040a20"},
 "view": {"stroke": "black", "strokeWidth": 1, "strokeDash": [6,3,1,3]},
 "resolve": {"scale": {"shape": "independent"}},
 "layer": [
  {"transform": [{"filter": "datum.chord > 0"}], "mark": {"type": "line", "color": "black", "strokeWidth": 1.2},
   "encoding": {
    "x": {"field": "cp", "type": "quantitative", "title": null, "scale": {"domain": [-2, 1.2], "nice": false, "zero": false}, "axis": {"values": [-2,-1.8,-1.6,-1.4,-1.2,-1,-0.8,-0.6,-0.4,-0.2,0,0.2,0.4,0.6,0.8,1,1.2], "tickCount": 30, "grid": true, "gridColor": "black", "gridWidth": 0.8, "gridDash": [6,3,1,3], "labels": false, "ticks": false, "domain": false, "title": null}},
    "y": {"field": "chord", "type": "quantitative", "title": null, "scale": {"domain": [0, 100], "nice": false, "zero": false}, "axis": {"orient": "right", "values": [0,10,20,30,40,50,60,70,80,90,100], "tickCount": 30, "grid": true, "gridColor": "black", "gridWidth": 0.8, "gridDash": [6,3,1,3], "labels": true, "labelExpr": "datum.value % 20 == 0 && datum.value < 100 ? datum.label : ''", "labelAngle": 270, "labelAlign": "center", "labelBaseline": "top", "labelPadding": 7, "labelFontSize": 18, "labelFont": "DejaVu Sans", "labelColor": "black", "labelFlush": false, "labelOverlap": false, "labelBound": false, "ticks": false, "domain": false, "title": null}},
    "detail": {"field": "side"},
    "strokeDash": {"field": "body", "type": "nominal", "scale": {"domain": ["cyl","crv"], "range": [[1,0],[7,4]]}, "legend": null},
    "order": {"field": "chord", "type": "quantitative"}}},
  {"transform": [{"filter": "datum.body == 'cyl' && datum.chord < 100"}], "mark": {"type": "point", "filled": true, "fill": "white", "stroke": "black", "strokeWidth": 1.1, "size": 64, "opacity": 1},
   "encoding": {"x": {"field": "cp", "type": "quantitative", "title": null}, "y": {"field": "chord", "type": "quantitative", "title": null},
    "shape": {"field": "side", "type": "nominal", "scale": {"domain": ["up","lo"], "range": ["circle","square"]}, "legend": null}}},
  {"transform": [{"filter": "datum.body == 'crv' && datum.chord < 100"}], "mark": {"type": "point", "filled": true, "fill": "white", "stroke": "black", "strokeWidth": 1.1, "size": 64, "opacity": 1},
   "encoding": {"x": {"field": "cp", "type": "quantitative", "title": null}, "y": {"field": "chord", "type": "quantitative", "title": null},
    "shape": {"field": "side", "type": "nominal", "scale": {"domain": ["up","lo"], "range": ["M1,0A1,1,0,1,1,-1,0A1,1,0,1,1,1,0M-0.7,-0.7L-2.1,-2.1", "M-0.95,-0.95L0.95,-0.95L0.95,0.95L-0.95,0.95ZM-0.95,-0.95L-2.1,-2.1"]}, "legend": null}}},
  {"data": {"values": [{}]}, "mark": {"type": "rule", "color": "black", "strokeWidth": 2.5}, "encoding": {"y": {"datum": 0, "type": "quantitative", "title": null}}}
 ]
},
{
 "width": 343, "height": 294, "data": {"name": "s020a12"},
 "title": {"text": "0.20b/2", "orient": "left", "anchor": "middle", "fontSize": 20, "fontWeight": "normal", "offset": 2},
 "view": {"stroke": "black", "strokeWidth": 1.2},
 "resolve": {"scale": {"shape": "independent"}},
 "layer": [
  {"transform": [{"filter": "datum.chord > 0"}], "mark": {"type": "line", "color": "black", "strokeWidth": 1.2},
   "encoding": {
    "x": {"field": "cp", "type": "quantitative", "title": "Pressure coefficient, P", "scale": {"domain": [-1.6, 0.8], "nice": false, "zero": false}, "axis": {"values": [-1.6,-1.4,-1.2,-1,-0.8,-0.6,-0.4,-0.2,0,0.2,0.4,0.6,0.8], "tickCount": 30, "grid": true, "gridColor": "black", "gridWidth": 1, "gridOpacity": 1, "labels": true, "labelExpr": "abs(round(datum.value * 10)) % 4 == 0 ? (datum.value == 0 ? '0' : replace(format(datum.value, '.1f'), '0.', '.')) : ''", "labelAngle": 270, "labelAlign": "right", "labelBaseline": "middle", "labelPadding": 5, "labelFontSize": 19, "labelFont": "DejaVu Sans", "labelColor": "black", "labelFlush": false, "labelOverlap": false, "labelBound": false, "ticks": false, "domain": false,
      "title": "Pressure coefficient, P", "titleAngle": 180, "titleX": 580, "titleY": 76, "titleAlign": "center", "titleBaseline": "middle", "titleFontSize": 20, "titleFont": "DejaVu Sans", "titleFontWeight": "normal", "titleColor": "black"}},
    "y": {"field": "chord", "type": "quantitative", "title": null, "scale": {"domain": [0, 100], "nice": false, "zero": false}, "axis": {"orient": "left", "values": [0,10,20,30,40,50,60,70,80,90,100], "tickCount": 30, "grid": true, "gridColor": "black", "gridWidth": 1, "gridOpacity": 1, "labels": false, "ticks": false, "domain": false, "title": null}},
    "detail": {"field": "side"},
    "strokeDash": {"field": "body", "type": "nominal", "scale": {"domain": ["cyl","crv"], "range": [[1,0],[7,4]]}, "legend": null},
    "order": {"field": "chord", "type": "quantitative"}}},
  {"transform": [{"filter": "datum.body == 'cyl' && datum.chord < 100"}], "mark": {"type": "point", "filled": true, "fill": "white", "stroke": "black", "strokeWidth": 1.1, "size": 64, "opacity": 1},
   "encoding": {"x": {"field": "cp", "type": "quantitative", "title": "Pressure coefficient, P"}, "y": {"field": "chord", "type": "quantitative", "title": null},
    "shape": {"field": "side", "type": "nominal", "scale": {"domain": ["up","lo"], "range": ["circle","square"]}, "legend": null}}},
  {"transform": [{"filter": "datum.body == 'crv' && datum.chord < 100"}], "mark": {"type": "point", "filled": true, "fill": "white", "stroke": "black", "strokeWidth": 1.1, "size": 64, "opacity": 1},
   "encoding": {"x": {"field": "cp", "type": "quantitative", "title": "Pressure coefficient, P"}, "y": {"field": "chord", "type": "quantitative", "title": null},
    "shape": {"field": "side", "type": "nominal", "scale": {"domain": ["up","lo"], "range": ["M1,0A1,1,0,1,1,-1,0A1,1,0,1,1,1,0M-0.7,-0.7L-2.1,-2.1", "M-0.95,-0.95L0.95,-0.95L0.95,0.95L-0.95,0.95ZM-0.95,-0.95L-2.1,-2.1"]}, "legend": null}}},
  {"data": {"values": [{}]}, "mark": {"type": "rule", "color": "black", "strokeWidth": 2.5}, "encoding": {"y": {"datum": 0, "type": "quantitative", "title": null}}},
  {"data": {"values": [{}]}, "mark": {"type": "text", "text": "α=12°", "angle": 270, "align": "center", "baseline": "middle", "fontSize": 16, "font": "DejaVu Sans", "color": "black"}, "encoding": {"x": {"datum": -0.06, "type": "quantitative", "title": "Pressure coefficient, P"}, "y": {"datum": 31, "type": "quantitative", "title": null}}}
 ]
},
{
 "width": 464, "height": 294, "data": {"name": "s020a20"},
 "view": {"stroke": "black", "strokeWidth": 1.2},
 "resolve": {"scale": {"shape": "independent"}},
 "layer": [
  {"transform": [{"filter": "datum.chord > 0"}], "mark": {"type": "line", "color": "black", "strokeWidth": 1.2},
   "encoding": {
    "x": {"field": "cp", "type": "quantitative", "title": null, "scale": {"domain": [-2, 1.2], "nice": false, "zero": false}, "axis": {"values": [-2,-1.8,-1.6,-1.4,-1.2,-1,-0.8,-0.6,-0.4,-0.2,0,0.2,0.4,0.6,0.8,1,1.2], "tickCount": 30, "grid": true, "gridColor": "black", "gridWidth": 1, "gridOpacity": 1, "labels": true, "labelExpr": "abs(round(datum.value * 10)) % 4 == 0 ? (datum.value == 0 ? '0' : replace(format(datum.value, '.1f'), '0.', '.')) : ''", "labelAngle": 270, "labelAlign": "right", "labelBaseline": "middle", "labelPadding": 5, "labelFontSize": 19, "labelFont": "DejaVu Sans", "labelColor": "black", "labelFlush": false, "labelOverlap": false, "labelBound": false, "ticks": false, "domain": false, "title": null}},
    "y": {"field": "chord", "type": "quantitative", "title": null, "scale": {"domain": [0, 100], "nice": false, "zero": false}, "axis": {"orient": "right", "values": [0,10,20,30,40,50,60,70,80,90,100], "tickCount": 30, "grid": true, "gridColor": "black", "gridWidth": 1, "gridOpacity": 1, "labels": true, "labelExpr": "datum.value % 20 == 0 && datum.value < 100 ? datum.label : ''", "labelAngle": 270, "labelAlign": "center", "labelBaseline": "top", "labelPadding": 7, "labelFontSize": 18, "labelFont": "DejaVu Sans", "labelColor": "black", "labelFlush": false, "labelOverlap": false, "labelBound": false, "ticks": false, "domain": false, "title": null}},
    "detail": {"field": "side"},
    "strokeDash": {"field": "body", "type": "nominal", "scale": {"domain": ["cyl","crv"], "range": [[1,0],[7,4]]}, "legend": null},
    "order": {"field": "chord", "type": "quantitative"}}},
  {"transform": [{"filter": "datum.body == 'cyl' && datum.chord < 100"}], "mark": {"type": "point", "filled": true, "fill": "white", "stroke": "black", "strokeWidth": 1.1, "size": 64, "opacity": 1},
   "encoding": {"x": {"field": "cp", "type": "quantitative", "title": null}, "y": {"field": "chord", "type": "quantitative", "title": null},
    "shape": {"field": "side", "type": "nominal", "scale": {"domain": ["up","lo"], "range": ["circle","square"]}, "legend": null}}},
  {"transform": [{"filter": "datum.body == 'crv' && datum.chord < 100"}], "mark": {"type": "point", "filled": true, "fill": "white", "stroke": "black", "strokeWidth": 1.1, "size": 64, "opacity": 1},
   "encoding": {"x": {"field": "cp", "type": "quantitative", "title": null}, "y": {"field": "chord", "type": "quantitative", "title": null},
    "shape": {"field": "side", "type": "nominal", "scale": {"domain": ["up","lo"], "range": ["M1,0A1,1,0,1,1,-1,0A1,1,0,1,1,1,0M-0.7,-0.7L-2.1,-2.1", "M-0.95,-0.95L0.95,-0.95L0.95,0.95L-0.95,0.95ZM-0.95,-0.95L-2.1,-2.1"]}, "legend": null}}},
  {"data": {"values": [{}]}, "mark": {"type": "rule", "color": "black", "strokeWidth": 2.5}, "encoding": {"y": {"datum": 0, "type": "quantitative", "title": null}}},
  {"data": {"values": [{}]}, "mark": {"type": "text", "text": "α=20°", "angle": 270, "align": "center", "baseline": "middle", "fontSize": 16, "font": "DejaVu Sans", "color": "black"}, "encoding": {"x": {"datum": -0.09, "type": "quantitative", "title": null}, "y": {"datum": 32, "type": "quantitative", "title": null}}}
 ]
}
],
"config": {
 "font": "DejaVu Sans",
 "view": {"stroke": "black"},
 "axis": {"labelColor": "black", "labelFont": "DejaVu Sans"},
 "title": {"color": "black", "font": "DejaVu Sans", "fontWeight": "normal"},
 "text": {"color": "black"}
}
}
